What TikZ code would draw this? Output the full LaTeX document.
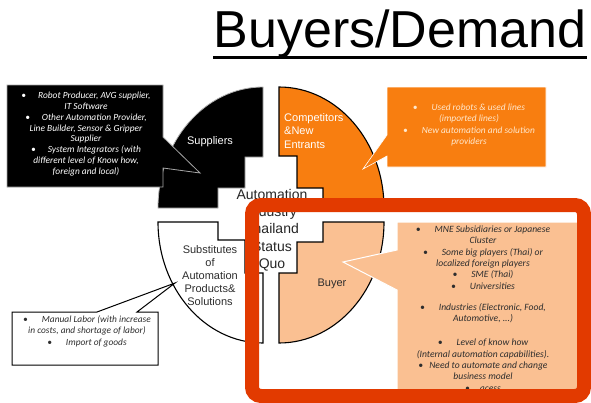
\documentclass[tikz,border=0pt]{standalone}
\usepackage{fontspec}
\setmainfont{Liberation Sans}
\newfontfamily\callfont{Carlito}
\definecolor{orangeC}{RGB}{248,126,16}
\definecolor{peachC}{RGB}{250,192,146}
\definecolor{frameC}{RGB}{226,58,0}
\definecolor{darkT}{RGB}{45,45,45}
\definecolor{paleT}{RGB}{255,232,205}
\begin{document}
\begin{tikzpicture}[x=1pt,y=-1pt,
  lbl/.style={font=\fontsize{11}{13.5}\selectfont, inner sep=0pt, align=center},
  calltext/.style={font=\callfont\itshape\fontsize{9.4}{10.9}\selectfont, inner sep=0pt, align=center},
  piece/.style={line width=1.1pt, draw=black, line join=miter},
]
\useasboundingbox[fill=white] (0,0) rectangle (591,402);

% title
\node[font=\fontsize{52}{60}\selectfont, inner sep=0pt, anchor=base] (title) at (400,47) {Buyers/Demand};
\draw[line width=3pt] ([yshift=-10.5pt]title.base west) -- ([yshift=-10.5pt]title.base east);

% pieces
\filldraw[piece, fill=black, draw=gray!60, line width=0.8pt] (263,87) .. controls (205,87) and (158,141.2) .. (158,208) -- (218,208) -- (218,188) -- (245,188) -- (245,157) -- (263,157) -- cycle;
\filldraw[piece, fill=orangeC] (279,87) .. controls (337,87) and (384,141.2) .. (384,208) -- (323,208) -- (323,188) -- (297,188) -- (297,156) -- (279,156) -- cycle;
\filldraw[piece, fill=white] (158,222) .. controls (158,288.8) and (205,343) .. (263,343) -- (263,273) -- (245,273) -- (245,240) -- (218,240) -- (218,222) -- cycle;
\filldraw[piece, fill=peachC] (384,222) .. controls (384,288.8) and (337,343) .. (279,343) -- (279,273) -- (297,273) -- (297,242) -- (323,242) -- (323,222) -- cycle;

% callouts
\filldraw[fill=black, draw=gray!70, line width=0.8pt] (7,85) -- (163,85) -- (163,137) -- (200,173) -- (163,168) -- (163,187) -- (7,187) -- cycle;
\filldraw[fill=orangeC, draw=white, line width=0.6pt] (387,87) -- (546,87) -- (546,167) -- (387,167) -- (387,156) -- (363,169) -- (387,135) -- cycle;
\filldraw[fill=white, draw=black, line width=1pt] (12,312) -- (97,312) -- (175,283) -- (137,312) -- (158,312) -- (158,365) -- (12,365) -- cycle;
\filldraw[fill=peachC, draw=white, line width=1pt] (397,222) -- (580,222) -- (580,398) -- (397,398) -- (397,290) -- (343,262) -- (397,250) -- cycle;

% labels
\node[lbl, text=white] (sup) at (210,142) {Suppliers};
\node[lbl, text=white, align=left, anchor=west] (comp) at (284,131) {Competitors\\\&New\\Entrants};
\node[lbl, text=darkT, font=\fontsize{11}{13}\selectfont] (subst) at (210,276) {Substitutes\\of\\Automation\\Products\&\\Solutions};
\node[lbl, text=darkT] (buyer) at (332,284) {Buyer};
\node[lbl, text=black!85, font=\fontsize{14}{17.3}\selectfont] (center) at (272,230) {Automation\\Industry\\Thailand\\Status\\Quo};

% callout texts
\node[calltext, text=white] (supText) at (86,134) {\textbullet\hspace{12pt}Robot Producer, AVG supplier,\\IT Software\\\textbullet\hspace{12pt}Other Automation Provider,\\Line Builder, Sensor \& Gripper\\Supplier\\\textbullet\hspace{12pt}System Integrators (with\\different level of Know how,\\foreign and local)};
\node[calltext, text=paleT, font=\callfont\itshape\fontsize{9.4}{11.4}\selectfont] (compText) at (469,125) {\textbullet\hspace{14pt}Used robots \& used lines\\(imported lines)\\\textbullet\hspace{14pt}New automation and solution\\providers};
\node[calltext, text=darkT, font=\callfont\itshape\fontsize{9.4}{11.5}\selectfont] (substText) at (87,331) {\textbullet\hspace{14pt}Manual Labor (with increase\\in costs, and shortage of labor)\\\textbullet\hspace{14pt}Import of goods};
\node[calltext, text=darkT, font=\callfont\itshape\fontsize{9.6}{11.4}\selectfont, anchor=north] (buyerText) at (483,225.5) {\textbullet\hspace{14pt}MNE Subsidiaries or Japanese\\Cluster\\\textbullet\hspace{14pt}Some big players (Thai) or\\localized foreign players\\\textbullet\hspace{14pt}SME (Thai)\\\textbullet\hspace{14pt}Universities\\[9.6pt]\textbullet\hspace{14pt}Industries (Electronic, Food,\\Automotive, ...)\\[12.6pt]\textbullet\hspace{14pt}Level of know how\\(Internal automation capabilities).\\\textbullet\hspace{6pt}Need to automate and change\\business model\\\textbullet\hspace{10pt}acess};

% red frame
\draw[line width=14pt, draw=frameC, rounded corners=9pt] (252,205) rectangle (584,396);
\end{tikzpicture}
\end{document}
